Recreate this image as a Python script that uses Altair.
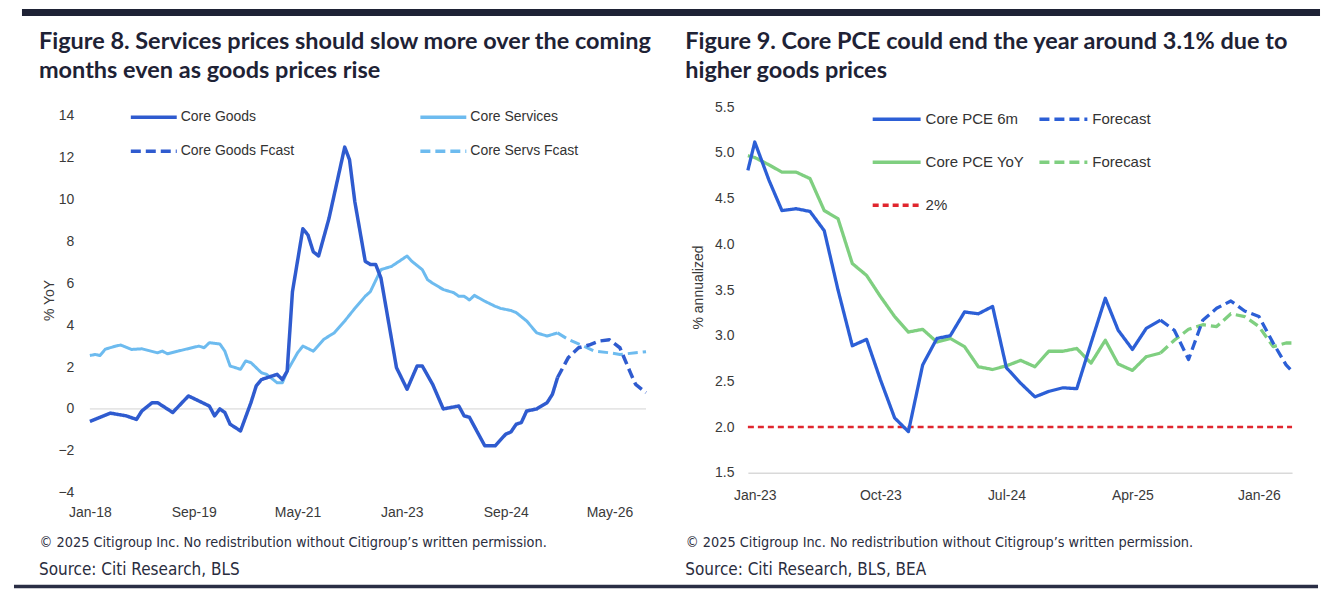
import pandas as pd
import altair as alt

# ---------------- Figure 8: core goods vs core services, % YoY ----------------
goods_dates = ["2018-01", "2018-05", "2018-08", "2018-10", "2018-11", "2019-01", "2019-02",
               "2019-05", "2019-08", "2019-10", "2019-12", "2020-01", "2020-02", "2020-03",
               "2020-04", "2020-06", "2020-08", "2020-09", "2020-10", "2021-01", "2021-02",
               "2021-03", "2021-04", "2021-06", "2021-07", "2021-08", "2021-09", "2021-11",
               "2022-02", "2022-03", "2022-04", "2022-06", "2022-07", "2022-08", "2022-09",
               "2022-12", "2023-02", "2023-04", "2023-05", "2023-07", "2023-09", "2023-12",
               "2024-01", "2024-02", "2024-05", "2024-07", "2024-09", "2024-10", "2024-11",
               "2024-12", "2025-01", "2025-03", "2025-05", "2025-06", "2025-07"]
goods_vals = [-0.6, -0.2, -0.33, -0.5, -0.1, 0.3, 0.3,
              -0.17, 0.62, 0.38, 0.14, -0.33, 0.0, -0.17,
              -0.73, -1.05, 0.3, 1.1, 1.4, 1.65, 1.4,
              1.8, 5.6, 8.6, 8.3, 7.5, 7.3, 9.1,
              12.5, 11.9, 9.9, 7.05, 6.9, 6.9, 6.25,
              1.97, 0.94, 2.05, 2.05, 1.17, 0.0, 0.14,
              -0.33, -0.4, -1.76, -1.76, -1.2, -1.1, -0.73,
              -0.65, -0.1, 0.0, 0.3, 0.7, 1.5]
goods_fc_dates = ["2025-07", "2025-09", "2025-11", "2026-01", "2026-03", "2026-05",
                  "2026-07", "2026-09", "2026-10", "2026-12"]
goods_fc_vals = [1.5, 2.44, 2.92, 3.05, 3.24, 3.3, 2.92, 1.72, 1.17, 0.78]

serv_dates = ["2018-01", "2018-02", "2018-03", "2018-04", "2018-06", "2018-07", "2018-09",
              "2018-11", "2019-02", "2019-03", "2019-04", "2019-06", "2019-10", "2019-11",
              "2019-12", "2020-02", "2020-03", "2020-04", "2020-06", "2020-07", "2020-08",
              "2020-10", "2020-11", "2021-01", "2021-02", "2021-03", "2021-05", "2021-06",
              "2021-08", "2021-10", "2021-12", "2022-02", "2022-04", "2022-06", "2022-07",
              "2022-09", "2022-11", "2023-02", "2023-03", "2023-05", "2023-06", "2023-07",
              "2023-09", "2023-11", "2023-12", "2024-01", "2024-02", "2024-03", "2024-05",
              "2024-07", "2024-08", "2024-10", "2024-11", "2025-01", "2025-03", "2025-05",
              "2025-07"]
serv_vals = [2.55, 2.6, 2.55, 2.85, 3.0, 3.05, 2.84,
             2.87, 2.68, 2.76, 2.63, 2.76, 3.0, 2.92,
             3.16, 3.1, 2.76, 2.05, 1.89, 2.29, 2.21,
             1.73, 1.65, 1.25, 1.25, 1.8, 2.68, 3.0,
             2.76, 3.32, 3.63, 4.2, 4.8, 5.38, 5.6,
             6.65, 6.8, 7.3, 7.05, 6.65, 6.17, 6.0,
             5.7, 5.55, 5.38, 5.38, 5.2, 5.42, 5.14,
             4.9, 4.8, 4.7, 4.6, 4.2, 3.63, 3.48,
             3.63]
serv_fc_dates = ["2025-07", "2025-09", "2025-12", "2026-02", "2026-05", "2026-07",
                 "2026-10", "2026-12"]
serv_fc_vals = [3.63, 3.32, 3.0, 2.76, 2.68, 2.6, 2.68, 2.73]

# legend is filled column by column
left_series = ["Core Goods", "Core Goods Fcast", "Core Services", "Core Servs Fcast"]
left_colors = ["#2f5bcf", "#2f5bcf", "#6dbbef", "#6dbbef"]
left_dashes = [[1, 0], [10, 5], [1, 0], [10, 5]]
left_x_ticks = ["2018-01", "2019-09", "2021-05", "2023-01", "2024-09", "2026-05"]
left_y_ticks = [-4, -2, 0, 2, 4, 6, 8, 10, 12, 14]
zero_line = [0]

# ---------------- Figure 9: core PCE, % annualized ----------------
pce_months = (["2022-12-17"]
              + [f"{d:%Y-%m}" for d in pd.date_range("2023-01-01", "2026-03-01", freq="MS")]
              + ["2026-03-14"])
pce6m = [4.81, 5.12, 4.7, 4.37, 4.39, 4.36, 4.15, 3.5, 2.89, 2.96, 2.52,
         2.1, 1.95, 2.68, 2.97, 3.0, 3.26, 3.24, 3.32, 2.65, 2.48,
         2.33, 2.39, 2.43, 2.42, 2.92, 3.41, 3.06, 2.85, 3.08, 3.17]
pce6m_fc = [3.17, 3.06, 2.74, 3.17, 3.3, 3.38, 3.27, 3.21, 2.92, 2.68, 2.61]
pce_yoy = [4.97, 4.95, 4.87, 4.79, 4.79, 4.72, 4.37, 4.28, 3.79, 3.66, 3.43,
           3.21, 3.04, 3.07, 2.93, 2.97, 2.88, 2.66, 2.63, 2.67, 2.73,
           2.66, 2.83, 2.83, 2.86, 2.7, 2.95, 2.69, 2.62, 2.77, 2.81]
pce_yoy_fc = [2.81, 2.95, 3.07, 3.12, 3.1, 3.24, 3.21, 3.1, 2.88, 2.92, 2.92]
target = 2.0

right_series = ["Core PCE 6m", "Core PCE YoY", "2%", "6m Fcast", "YoY Fcast"]
right_colors = ["#2c5fd6", "#7fcf80", "#e0262e", "#2c5fd6", "#7fcf80"]
right_dashes = [[1, 0], [1, 0], [6, 4], [10, 5], [10, 5]]
right_x_ticks = ["2023-01", "2023-10", "2024-07", "2025-04", "2026-01"]
right_y_ticks = [1.5, 2.0, 2.5, 3.0, 3.5, 4.0, 4.5, 5.0, 5.5]

title8 = ["Figure 8. Services prices should slow more over the coming",
          "months even as goods prices rise"]
title9 = ["Figure 9. Core PCE could end the year around 3.1% due to",
          "higher goods prices"]
footer = "\u00a9 2025 Citigroup Inc. No redistribution without Citigroup\u2019s written permission."
source8 = "Source: Citi Research, BLS"
source9 = "Source: Citi Research, BLS, BEA"


def ms(s):
    return int(pd.Timestamp(s).value // 10**6)


def frame(dates, vals, name):
    return pd.DataFrame({"date": [ms(d) for d in dates], "value": vals, "series": name})


TITLE_FONT = "Lato"
TEXT_FONT = "Liberation Sans"
NARROW_FONT = "Liberation Sans Narrow, DejaVu Sans Condensed"
NAVY = "#1e2235"
FOOT = "#2a2d3e"
one_row = pd.DataFrame({"k": [0]})


def title_text(lines, dx):
    return alt.Chart(one_row).mark_text(
        text=lines, align="left", baseline="alphabetic", lineHeight=29,
        font=TITLE_FONT, fontSize=23.5, fontWeight="bold", color=NAVY,
    ).encode(x=alt.value(dx), y=alt.value(-58))


def source_text(text, dx):
    return alt.Chart(one_row).mark_text(
        text=text, align="left", baseline="alphabetic",
        font=NARROW_FONT, fontSize=17, color=FOOT,
    ).encode(x=alt.value(dx), y=alt.value(468))


# ---------- left panel ----------
LW, LH = 557, 386
left_x = alt.X(
    "date:T",
    scale=alt.Scale(type="utc", domain=[ms(goods_dates[0]), ms(goods_fc_dates[-1])]),
    axis=alt.Axis(values=[ms(t) for t in left_x_ticks],
                  labelExpr="utcFormat(datum.value, '%b-%y')",
                  labelFlush=False, labelPadding=13, domain=False,
                  title=footer, titleX=-51, titleY=54, titleAlign="left",
                  titleAnchor="start", titleBaseline="alphabetic"),
)
left_y = alt.Y(
    "value:Q",
    scale=alt.Scale(domain=[-4, 14.4], nice=False, zero=False),
    axis=alt.Axis(values=left_y_ticks, labelPadding=16, domain=False, title="% YoY",
                  titleX=-40, titleY=LH / 2, titleBaseline="middle", titleAlign="center",
                  titleFont=TEXT_FONT, titleFontSize=14, titleColor="#3a3a3a"),
)
left_color = alt.Color(
    "series:N",
    scale=alt.Scale(domain=left_series, range=left_colors),
    legend=alt.Legend(title=None, orient="none", legendX=39, legendY=-15, columns=2,
                      columnPadding=119, rowPadding=2, padding=0, symbolType="stroke",
                      symbolSize=2116, symbolStrokeWidth=3.5, labelOffset=2,
                      labelFontSize=14, labelFont=TEXT_FONT, labelColor="#333333"),
)
left_dash = alt.StrokeDash("series:N", scale=alt.Scale(domain=left_series, range=left_dashes))

serv_df = pd.concat([frame(serv_dates, serv_vals, "Core Services"),
                     frame(serv_fc_dates, serv_fc_vals, "Core Servs Fcast")])
goods_df = pd.concat([frame(goods_dates, goods_vals, "Core Goods"),
                      frame(goods_fc_dates, goods_fc_vals, "Core Goods Fcast")])

zero = alt.Chart(pd.DataFrame({"value": zero_line})).mark_rule(
    color="#d4d4d4", strokeWidth=1
).encode(y="value:Q")

serv_lines = alt.Chart(serv_df).mark_line(strokeWidth=3, strokeJoin="round").encode(
    x=left_x, y=left_y, color=left_color, strokeDash=left_dash, detail="series:N"
)
goods_lines = alt.Chart(goods_df).mark_line(strokeWidth=3.5, strokeJoin="round").encode(
    x=left_x, y=left_y, color=left_color, strokeDash=left_dash, detail="series:N"
)

# page frame: thick bar on top, thin bar at the bottom
top_bar = alt.Chart(one_row).mark_rule(color=NAVY, strokeWidth=7).encode(
    x=alt.value(-68), x2=alt.value(1232), y=alt.value(-95)
)
bottom_bar = alt.Chart(one_row).mark_rule(color="#2a2e45", strokeWidth=3.5).encode(
    x=alt.value(-76), x2=alt.value(1230), y=alt.value(480)
)

left = alt.layer(zero, serv_lines, goods_lines, top_bar, bottom_bar,
                 title_text(title8, -51), source_text(source8, -51)
                 ).properties(width=LW, height=LH)

# ---------- right panel ----------
RW, RH = 545, 366
right_x = alt.X(
    "date:T",
    scale=alt.Scale(type="utc", domain=[ms(pce_months[0]), ms(pce_months[-1])]),
    axis=alt.Axis(values=[ms(t) for t in right_x_ticks],
                  labelExpr="utcFormat(datum.value, '%b-%y')",
                  labelFlush=False, labelPadding=16, domain=True, domainColor="#d9d9d9",
                  domainWidth=1.5,
                  title=footer, titleX=-62.7, titleY=73.7, titleAlign="left",
                  titleAnchor="start", titleBaseline="alphabetic"),
)
right_y = alt.Y(
    "value:Q",
    scale=alt.Scale(domain=[1.5, 5.5], nice=False, zero=False),
    axis=alt.Axis(values=right_y_ticks, format=".1f", labelPadding=14, domain=False,
                  title="% annualized", titleX=-49, titleY=RH / 2 - 3,
                  titleBaseline="middle", titleAlign="center",
                  titleFont=TEXT_FONT, titleFontSize=14, titleColor="#3a3a3a"),
)
right_color = alt.Color(
    "series:N",
    scale=alt.Scale(domain=right_series, range=right_colors),
    legend=alt.Legend(title=None, orient="none", legendX=123, legendY=-14, columns=2,
                      columnPadding=8, rowPadding=9, padding=0, symbolType="stroke",
                      symbolSize=2304, symbolStrokeWidth=3.5, labelOffset=3,
                      labelFontSize=15, labelFont=TEXT_FONT, labelColor="#333333",
                      labelExpr="indexof(datum.label, 'Fcast') >= 0 ? 'Forecast' : datum.label"),
)
right_dash = alt.StrokeDash("series:N", scale=alt.Scale(domain=right_series, range=right_dashes))

red_df = frame([pce_months[0], pce_months[-1]], [target, target], "2%")
green_df = pd.concat([frame(pce_months[:31], pce_yoy, "Core PCE YoY"),
                      frame(pce_months[30:], pce_yoy_fc, "YoY Fcast")])
blue_df = pd.concat([frame(pce_months[:31], pce6m, "Core PCE 6m"),
                     frame(pce_months[30:], pce6m_fc, "6m Fcast")])


def pce_line(df, width):
    return alt.Chart(df).mark_line(strokeWidth=width, strokeJoin="round").encode(
        x=right_x, y=right_y, color=right_color, strokeDash=right_dash, detail="series:N"
    )


right = alt.layer(pce_line(red_df, 2.5), pce_line(green_df, 3.3), pce_line(blue_df, 3.3),
                  title_text(title9, -62.7), source_text(source9, -62.7)
                  ).properties(width=RW, height=RH)

chart = alt.hconcat(left, right, spacing=102, bounds="flush").resolve_scale(
    x="independent", y="independent", color="independent", strokeDash="independent"
).configure_view(stroke=None).configure_axis(
    grid=False, ticks=False,
    labelFont=TEXT_FONT, labelFontSize=14, labelColor="#3a3a3a",
    titleFont=NARROW_FONT, titleFontSize=14.4, titleFontWeight="normal", titleColor=FOOT,
).properties(
    padding={"left": 4, "top": 0, "right": 4, "bottom": 4}
)

chart.save("out.html", embed_options={"renderer": "svg", "actions": False})
